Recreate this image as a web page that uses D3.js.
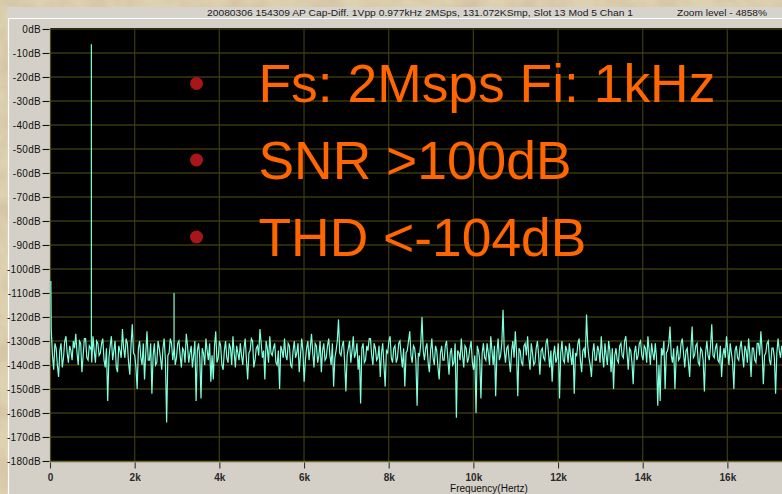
<!DOCTYPE html>
<html><head><meta charset="utf-8">
<script src="https://cdn.jsdelivr.net/npm/d3@7"></script>
<style>html,body{margin:0;padding:0;background:#d8c9a4;overflow:hidden}</style>
</head><body>
<svg id="c" width="782" height="494"></svg>
<script>
// ---------- data ----------
const titleText = "20080306 154309 AP Cap-Diff. 1Vpp 0.977kHz 2MSps, 131.072KSmp, Slot 13 Mod 5 Chan 1";
const zoomText = "Zoom level - 4858%";
const xAxisTitle = "Frequency(Hertz)";
const xTicks = [0, 2000, 4000, 6000, 8000, 10000, 12000, 14000, 16000];
const xTickLabels = ["0", "2k", "4k", "6k", "8k", "10k", "12k", "14k", "16k"];
const yTicks = [0, -10, -20, -30, -40, -50, -60, -70, -80, -90, -100, -110, -120, -130, -140, -150, -160, -170, -180];
const yTickLabels = yTicks.map(v => v + "dB");
const bulletLines = ["Fs: 2Msps Fi: 1kHz", "SNR >100dB", "THD <-104dB"];

// spectrum: noise floor bins (bin n at n * noiseStepHz, n = 1..)
const noiseStepHz = 29;
const noiseDb = [
 -125,-136,-142,-131,-133,-140,-145,-134,-131,-141,-137,-130,-128,-135,-139,-132,-134,-138,-130,-133,
 -127,-135,-140,-130,-131,-143,-136,-129,-129,-137,-138,-132,-133,-139,-128,-134,-139,-130,-131,-136,
 -135,-131,-129,-138,-141,-133,-155,-137,-132,-128,-138,-134,-130,-141,-143,-132,-134,-137,-125,-133,
 -137,-129,-131,-139,-144,-132,-123,-135,-136,-141,-150,-133,-130,-137,-140,-131,-146,-135,-126,-138,
 -138,-131,-152,-136,-131,-140,-139,-130,-133,-137,-142,-133,-129,-138,-164,-136,-135,-129,-131,-138,
 -133,-140,-137,-131,-130,-136,-141,-133,-134,-139,-127,-132,-139,-135,-132,-141,-136,-130,-155,-134,
 -131,-137,-154,-133,-135,-140,-129,-134,-138,-131,-147,-136,-146,-132,-126,-139,-137,-130,-132,-140,
 -142,-134,-130,-137,-139,-131,-133,-140,-128,-135,-141,-132,-135,-138,-131,-136,-140,-133,-129,-138,
 -146,-135,-134,-129,-130,-141,-138,-133,-132,-136,-125,-131,-137,-134,-146,-130,-133,-139,-128,-135,
 -136,-133,-131,-139,-140,-134,-150,-132,-134,-137,-129,-136,-138,-131,-132,-140,-141,-134,-130,-137,
 -135,-131,-143,-136,-129,-134,-147,-138,-133,-130,-138,-133,-127,-135,-141,-131,-132,-139,-136,-130,
 -143,-134,-131,-138,-137,-132,-129,-136,-140,-131,-149,-137,-134,-130,-121,-135,-136,-132,-130,-139,
 -151,-136,-133,-130,-139,-134,-128,-137,-135,-131,-142,-136,-156,-133,-131,-139,-138,-132,-134,-129,
 -129,-136,-140,-131,-133,-138,-137,-132,-145,-135,-131,-140,-149,-134,-135,-130,-128,-137,-139,-133,
 -132,-139,-137,-131,-130,-136,-141,-133,-149,-135,-134,-130,-126,-136,-139,-132,-133,-138,-157,-135,
 -136,-131,-120,-134,-138,-133,-131,-139,-143,-134,-129,-137,-140,-132,-134,-141,-146,-135,-132,-138,
 -138,-132,-130,-137,-144,-135,-133,-140,-139,-131,-162,-134,-135,-138,-129,-136,-141,-132,-133,-139,
 -137,-133,-130,-139,-142,-136,-160,-132,-134,-138,-154,-135,-131,-137,-138,-131,-135,-140,-128,-134,
 -140,-132,-153,-135,-129,-138,-136,-131,-117,-134,-139,-133,-132,-138,-143,-134,-130,-137,-126,-135,
 -153,-133,-134,-139,-140,-132,-131,-136,-128,-137,-142,-131,-135,-140,-139,-133,-130,-136,-144,-134,
 -133,-137,-138,-131,-129,-135,-141,-134,-147,-136,-132,-139,-137,-131,-154,-135,-130,-138,-139,-132,
 -134,-139,-131,-136,-140,-133,-152,-135,-136,-131,-129,-138,-143,-134,-133,-137,-119,-132,-137,-140,
 -145,-135,-131,-138,-138,-132,-134,-139,-128,-136,-141,-131,-136,-140,-130,-134,-143,-133,-150,-136,
 -133,-138,-139,-132,-131,-136,-137,-130,-128,-135,-142,-133,-134,-139,-148,-135,-132,-138,-136,-131,
 -130,-136,-138,-132,-133,-139,-128,-134,-140,-131,-135,-138,-131,-137,-157,-140,-155,-133,-136,-130,
 -150,-135,-134,-131,-124,-136,-139,-133,-150,-137,-132,-138,-137,-131,-129,-135,-141,-134,-133,-139,
 -145,-133,-124,-137,-136,-132,-131,-139,-140,-133,-134,-138,-151,-135,-130,-136,-138,-132,-123,-136,
 -137,-133,-131,-138,-139,-132,-145,-136,-133,-137,-128,-134,-140,-131,-135,-139,-150,-134,-132,-137,
 -138,-133,-130,-136,-141,-132,-134,-139,-129,-135,-145,-133,-133,-138,-139,-131,-131,-136,-126,-134,
 -148,-136,-135,-131,-130,-138,-140,-133,-133,-137,-152,-135,-129,-134,-137,-132
];
// discrete tones: DC, fundamental, 3rd harmonic
const toneHz = [20, 977, 2930];
const tonePeakDb = [-105, -6.4, -110];
const toneFootDb = [null, -134, -131];

// ---------- layout ----------
const W = 782, H = 494;
const plot = {left: 50, right: 782, top: 28, bottom: 461};
const svg = d3.select("#c");
const font = "'Liberation Sans', Arial, Helvetica, sans-serif";

// parchment background
const defs = svg.append("defs");
const f = defs.append("filter").attr("id", "paper").attr("x", 0).attr("y", 0).attr("width", 1).attr("height", 1);
f.append("feTurbulence").attr("type", "fractalNoise").attr("baseFrequency", "0.035").attr("numOctaves", 3).attr("seed", 7);
f.append("feColorMatrix").attr("type", "matrix")
  .attr("values", "0 0 0 0 0.62  0 0 0 0 0.50  0 0 0 0 0.33  1.6 0 0 0 -0.65");
svg.append("rect").attr("width", W).attr("height", H).attr("fill", "#ddd1b0");
svg.append("rect").attr("width", W).attr("height", H).attr("filter", "url(#paper)");

// window panels
svg.append("rect").attr("x", 7).attr("y", 7).attr("width", W - 7).attr("height", 11).attr("fill", "#d6d3cc");
svg.append("rect").attr("x", 8).attr("y", 18).attr("width", W - 8).attr("height", H - 18).attr("fill", "#d4d0c8");
svg.append("line").attr("x1", 8).attr("x2", W).attr("y1", 18.5).attr("y2", 18.5).attr("stroke", "#ffffff").attr("stroke-width", 1.2);
svg.append("line").attr("x1", 8.5).attr("x2", 8.5).attr("y1", 18).attr("y2", H).attr("stroke", "#ffffff").attr("stroke-width", 1.2);

svg.append("text").attr("x", 207).attr("y", 15.5).attr("font-family", font).attr("font-size", 9.5)
  .attr("fill", "#1a1a1a").attr("textLength", 426).attr("lengthAdjust", "spacingAndGlyphs").text(titleText);
svg.append("text").attr("x", 677).attr("y", 15.5).attr("font-family", font).attr("font-size", 9.5)
  .attr("fill", "#1a1a1a").attr("textLength", 90).attr("lengthAdjust", "spacingAndGlyphs").text(zoomText);

// scales
const x = d3.scaleLinear().domain([0, 17290]).range([plot.left, plot.right]);
const y = d3.scaleLinear().domain([0, -180]).range([29, 461]);

// plot area
svg.append("rect").attr("x", plot.left).attr("y", plot.top).attr("width", plot.right - plot.left + 5)
  .attr("height", plot.bottom - plot.top).attr("fill", "#000");

const clip = defs.append("clipPath").attr("id", "pc");
clip.append("rect").attr("x", plot.left).attr("y", plot.top).attr("width", plot.right - plot.left).attr("height", plot.bottom - plot.top);

const grid = svg.append("g").attr("stroke", "#38380f").attr("stroke-width", 1.3);
grid.selectAll("line.v").data(xTicks.slice(1)).join("line").attr("class", "v")
  .attr("x1", d => x(d)).attr("x2", d => x(d)).attr("y1", plot.top).attr("y2", plot.bottom);
grid.selectAll("line.h").data(yTicks.slice(0, -1)).join("line").attr("class", "h")
  .attr("x1", plot.left).attr("x2", plot.right).attr("y1", d => y(d)).attr("y2", d => y(d));

// frame (left + bottom)
svg.append("line").attr("x1", plot.left + 0.5).attr("x2", plot.left + 0.5).attr("y1", plot.top).attr("y2", plot.bottom + 1)
  .attr("stroke", "#4e4e1c").attr("stroke-width", 1.2);
svg.append("line").attr("x1", plot.left).attr("x2", W).attr("y1", plot.bottom + 0.5).attr("y2", plot.bottom + 0.5)
  .attr("stroke", "#6a6a2a").attr("stroke-width", 1.3);

// axes
const yAxis = d3.axisLeft(y).tickValues(yTicks).tickFormat((d, i) => yTickLabels[i]).tickSize(7).tickPadding(1.5);
const gy = svg.append("g").attr("transform", `translate(${plot.left - 0.5},0)`).call(yAxis);
gy.select(".domain").remove();
gy.selectAll("line").attr("stroke", "#111").attr("stroke-width", 1.1);
gy.selectAll("text").attr("font-family", font).attr("font-size", 10).attr("fill", "#111").attr("letter-spacing", "0.3px");

const xAxis = d3.axisBottom(x).tickValues(xTicks).tickFormat((d, i) => xTickLabels[i]).tickSize(6).tickPadding(5);
const gx = svg.append("g").attr("transform", `translate(0,${plot.bottom + 1.5})`).call(xAxis);
gx.select(".domain").remove();
gx.selectAll("line").attr("stroke", "#333").attr("stroke-width", 1.1);
gx.selectAll("text").attr("font-family", font).attr("font-size", 10).attr("font-weight", "bold").attr("fill", "#2a2a2a");

svg.append("text").attr("x", 489).attr("y", 491.5).attr("text-anchor", "middle").attr("font-family", font)
  .attr("font-size", 10).attr("fill", "#111").text(xAxisTitle);

// spectrum trace
let pts = noiseDb.map((db, i) => ({f: (i + 1) * noiseStepHz, db}));
toneHz.forEach((hz, k) => {
  if (toneFootDb[k] !== null) pts.push({f: hz, db: toneFootDb[k]});
  pts.push({f: hz, db: tonePeakDb[k]});
  if (toneFootDb[k] !== null) pts.push({f: hz, db: toneFootDb[k]});
});
pts = pts.map((p, i) => ({...p, i})).sort((a, b) => a.f - b.f || a.i - b.i);

const line = d3.line().x(d => x(d.f)).y(d => y(d.db));
svg.append("path").datum(pts).attr("clip-path", "url(#pc)").attr("d", line)
  .attr("fill", "none").attr("stroke", "#80ffdc").attr("stroke-width", 1.2).attr("stroke-linejoin", "miter");

// overlay bullet text
const bl = svg.append("g");
const rows = [83.5, 160, 237];
bl.selectAll("circle").data(bulletLines).join("circle")
  .attr("cx", 196.5).attr("cy", (d, i) => rows[i]).attr("r", 6.5).attr("fill", "#a8161a");
bl.selectAll("text").data(bulletLines).join("text")
  .attr("x", 258.5).attr("y", (d, i) => rows[i] + 18.5)
  .attr("font-family", font).attr("font-size", 53.4).attr("fill", "#ff6600").text(d => d);
</script>
</body></html>
